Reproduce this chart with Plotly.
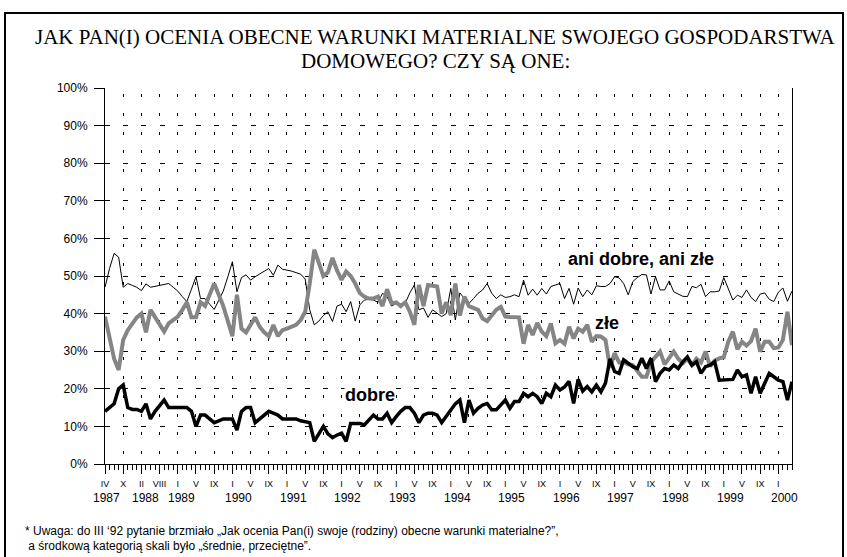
import plotly.graph_objects as go

# ---- data (percent) ----
dobre = [14, 15, 16, 20, 21, 15, 14.5, 14.5, 14, 16,
         12, 14, 15.5, 17, 15, 15, 15, 15, 15, 14,
         10, 13, 13, 12, 11, 11.5, 12, 12, 12, 9,
         14, 15, 15, 11, 12, 13, 14, 13.5, 13, 12,
         12, 12, 12, 11.5, 11.3, 11, 6, 8, 10, 8,
         7, 7.7, 8.2, 6, 10.8, 10.8, 10.8, 10.4, 11.7, 13,
         12, 12, 13.5, 11, 12.6, 14, 15, 15, 13.5, 11,
         13, 13.5, 13.5, 13, 11, 12.6, 14.4, 16, 17, 11,
         17, 13.5, 14.8, 15.7, 16.1, 14.4, 14.4, 15.7, 17, 14.8,
         16.6, 16.6, 18.8, 17.9, 18.8, 17.9, 16.1, 18.8, 17.9, 21,
         19.7, 20.5, 22, 16.1, 22.5, 19.4, 20.6, 19.2, 21, 19.2,
         21.5, 28, 24.6, 24.1, 27.7, 26.8, 25.9, 25.4, 28.1, 25.4,
         28.1, 21.9, 24.1, 25.4, 25, 26.3, 25.4, 27.2, 28.5, 26.3,
         27.2, 24.1, 25.9, 26.3, 27.2, 22.3, 22.3, 22.3, 22.5, 25,
         23.2, 23.7, 18.8, 23.2, 18.8, 21.5, 24.1, 23.2, 22.3, 21.9,
         17, 21.9]

zle = [39.2, 33, 28, 25, 33, 35.6, 37.5, 39, 40, 35,
       41, 39, 37, 35.2, 37.4, 38.3, 39.2, 41, 43, 39,
       39, 43, 42, 45, 48, 45, 42, 38, 34, 45,
       36, 35, 37, 39, 36.5, 35, 34, 37, 34, 35.6,
       36, 36.5, 37, 38.3, 40.5, 48, 57, 53.5, 50, 51,
       54.8, 51.5, 49, 51.2, 50, 48, 45.5, 44.5, 44, 44,
       44.5, 42, 46.5, 42.7, 43, 42, 43, 40.5, 37, 47.6,
       42, 47.6, 47.4, 47.2, 40, 43, 39.6, 48, 39.5, 44.5,
       42, 41.6, 41, 38.7, 38, 39.5, 41, 41.8, 39.2, 39.1,
       39, 39, 32, 37, 34.3, 37.5, 35.2, 34, 37.4, 32.1,
       33, 32, 36.5, 33.4, 36, 35.2, 37, 32.5, 34, 33.9,
       33, 25.6, 29.5, 27, 27, 26.5, 26.3, 24.6, 23.2, 23.2,
       27, 28.5, 29.9, 26.5, 28, 29.9, 28, 26.8, 28, 26.3,
       28, 27, 29.9, 26, 27.5, 28.1, 28.4, 32.5, 35.2, 30.5,
       32.5, 31.5, 32.7, 36, 29.9, 32.5, 32.5, 30.8, 31, 33,
       40.5, 31.6]

ani_dobre_ani_zle = [47, 52, 56, 55, 47, 48, 47.5, 47, 46.1, 47.9,
                     47, 47.3, 47.6, 47.8, 48, 47, 46, 44.5, 43.2, 46.5,
                     49.8, 44, 44, 42.5, 41.1, 43.5, 46, 49.8, 53.8, 45.8,
                     49.6, 50.3, 48.9, 49.8, 50.6, 51.3, 52, 50.2, 52.9, 51.8,
                     51.6, 51.3, 50.9, 50.5, 49.2, 41, 37, 38, 39.5, 40.5,
                     37.9, 42, 42.5, 40.5, 43.2, 38, 42.3, 43.6, 43.8, 43.6,
                     43, 45.4, 44.5, 42, 42.7, 42.5, 42.8, 45.5, 47.6, 41,
                     41.5, 39, 41, 40, 39.2, 40, 46.7, 38.3, 45.5, 44,
                     42.7, 44, 45.4, 46.3, 48, 45.4, 44, 45, 44.3, 44.5,
                     45, 44.5, 48.9, 44.9, 46.5, 44.9, 46.7, 45.2, 47.2, 47.6,
                     48, 44, 46.7, 42.5, 46.8, 44.5, 46.3, 45, 47.4, 47.2,
                     47.2, 48, 49.8, 49.5, 48, 45, 48.5, 49.6, 50.4, 50.3,
                     45.2, 49.8, 46.3, 46.3, 48.7, 45.8, 45.2, 44.6, 44.5, 47.2,
                     46.9, 47.8, 44.5, 45.8, 45.8, 46, 49.6, 46.6, 43.6, 44.9,
                     44.3, 46.3, 44.3, 43.2, 45.2, 45.5, 43.8, 43.2, 45.7, 46.8,
                     43.3, 46]

# tick labels (every 4th survey)
tick_text = ["IV", "X", "II", "VIII"] + ["I", "V", "IX"] * 11 + ["I"]
years = ["1987", "1988", "1989", "1990", "1991", "1992", "1993", "1994",
         "1995", "1996", "1997", "1998", "1999", "2000"]
year_first_label = ["IV", "II", "I", "I", "I", "I", "I", "I", "I", "I", "I", "I", "I", "I"]

y_ticks = list(range(0, 101, 10))

title_lines = ["JAK PAN(I) OCENIA OBECNE WARUNKI MATERIALNE SWOJEGO GOSPODARSTWA",
               "DOMOWEGO? CZY SĄ ONE:"]
footnote_lines = ["* Uwaga: do III ‘92 pytanie brzmiało „Jak ocenia Pan(i) swoje (rodziny) obecne warunki materialne?”,",
                  "\u00a0a środkową kategorią skali było „średnie, przeciętne”."]

# ---- derived ----
x = list(range(len(dobre)))
tick_pos = [4 * k for k in range(len(tick_text))]
year_pos = []
k = 0
for yr, lab in zip(years, year_first_label):
    while tick_text[k] != lab:
        k += 1
    year_pos.append(tick_pos[k])
    k += 1
year_shift = [0.4, 0.9, 0.8] + [1.4] * (len(years) - 3)

W, H = 847, 557
L, R, T, B = 105, 55, 88, 93
pw, ph = W - L - R, H - T - B


def px_x(p):
    return (p - L) / pw


def px_y(p):
    return (H - B - p) / ph


fig = go.Figure()
fig.add_trace(go.Scatter(x=x, y=ani_dobre_ani_zle, mode="lines",
                         line=dict(color="#000000", width=1), name="ani dobre, ani złe"))
fig.add_trace(go.Scatter(x=x, y=zle, mode="lines",
                         line=dict(color="#858585", width=4), name="złe"))
fig.add_trace(go.Scatter(x=x, y=dobre, mode="lines",
                         line=dict(color="#000000", width=3.5), name="dobre"))

font_sans = "Liberation Sans, Arial, sans-serif"
font_serif = "Liberation Serif, Times New Roman, serif"

annotations = []
for line, yp in zip(title_lines, [37, 61]):
    annotations.append(dict(text=line, xref="paper", yref="paper", x=px_x(435), y=px_y(yp),
                            xanchor="center", yanchor="middle", showarrow=False,
                            font=dict(family=font_serif, size=21, color="black")))
for yr, p, s in zip(years, year_pos, year_shift):
    annotations.append(dict(text=yr, x=p + s, y=px_y(498), xref="x", yref="paper",
                            xanchor="center", yanchor="middle", showarrow=False,
                            font=dict(family=font_sans, size=12, color="black")))
series_labels = [("<b>ani dobre, ani złe</b>", 117.9, 54.4),
                 ("<b>złe</b>", 110.3, 37.5),
                 ("<b>dobre</b>", 58.3, 18.4)]
for txt, xv, yv in series_labels:
    annotations.append(dict(text=txt, x=xv, y=yv, xref="x", yref="y", showarrow=False,
                            bgcolor="white", borderpad=0,
                            font=dict(family=font_sans, size=18, color="black")))
for line, yp in zip(footnote_lines, [531, 546]):
    annotations.append(dict(text=line, xref="paper", yref="paper", x=px_x(23), y=px_y(yp),
                            xanchor="left", yanchor="middle", showarrow=False, align="left",
                            font=dict(family=font_sans, size=12, color="black")))

fig.update_layout(
    width=W, height=H,
    margin=dict(l=L, r=R, t=T, b=B, pad=0),
    paper_bgcolor="white", plot_bgcolor="white",
    showlegend=False,
    annotations=annotations,
    shapes=[dict(type="rect", xref="paper", yref="paper",
                 x0=px_x(5), x1=px_x(843), y0=px_y(562), y1=px_y(13),
                 line=dict(color="black", width=2), layer="below")],
)

fig.update_xaxes(
    range=[0, len(x) - 1], tickmode="array", tickvals=tick_pos, ticktext=tick_text,
    ticks="outside", ticklen=9, tickcolor="black", tickwidth=1,
    tickfont=dict(family=font_sans, size=9, color="black"),
    ticklabelstandoff=2,
    showline=True, linecolor="black", linewidth=1, mirror=False,
    showgrid=True, gridcolor="black", gridwidth=1, griddash="0px,6px,3px,9.8px",
    zeroline=False,
    minor=dict(tickmode="linear", tick0=0, dtick=1, ticks="outside", ticklen=5,
               tickcolor="black", tickwidth=1, showgrid=False),
)
fig.update_yaxes(
    range=[0, 100], tickmode="array", tickvals=y_ticks,
    ticktext=[f"{v}%" for v in y_ticks],
    ticks="outside", ticklen=10, tickcolor="black", tickwidth=1,
    tickfont=dict(family=font_sans, size=12, color="black"),
    ticklabelstandoff=4,
    showline=True, linecolor="black", linewidth=1, mirror=True,
    showgrid=True, gridcolor="black", gridwidth=1, griddash="5px,13.19px",
    zeroline=False,
)

fig.write_html("out.html", config={"displayModeBar": False},
               post_script="document.body.style.margin='0';")
